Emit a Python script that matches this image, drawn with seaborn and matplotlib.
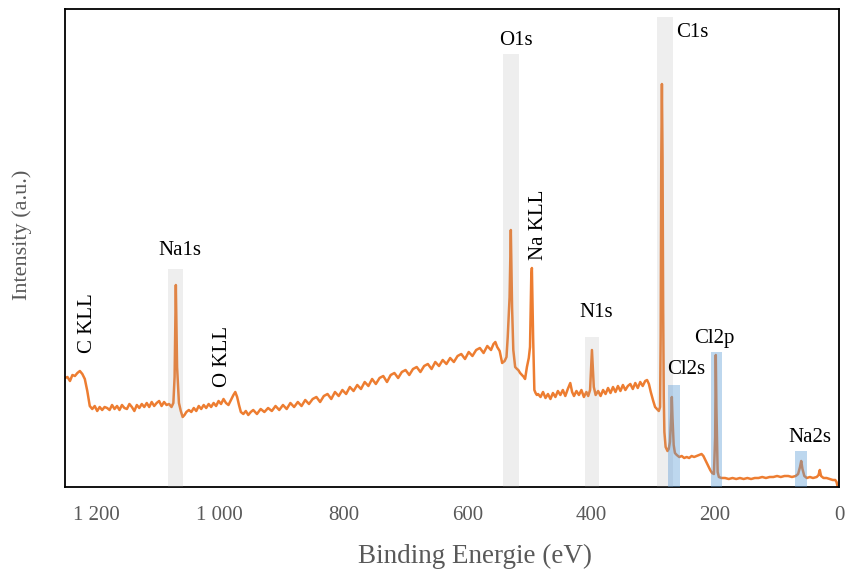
import matplotlib
matplotlib.use("Agg")
import matplotlib.pyplot as plt
import seaborn as sns
import pandas as pd

# ---- spectrum data (binding energy eV, intensity a.u.) ----
energy = [1250, 1246, 1242, 1238, 1234, 1230, 1226, 1222, 1218, 1214, 1210, 1206, 1202, 1198, 1194, 1190, 1186,
          1182, 1178, 1174, 1170, 1166, 1162, 1158, 1154, 1150, 1146, 1142, 1138, 1134, 1130, 1126, 1122, 1118,
          1114, 1110, 1106, 1102, 1098, 1094, 1090, 1086,
          1082, 1078, 1075, 1073, 1071, 1069, 1066, 1063, 1060, 1057, 1054,
          1050, 1046, 1042, 1038, 1034, 1030, 1026, 1022, 1018, 1014, 1010, 1006, 1002, 998, 994, 990, 986, 982,
          978, 975, 972, 969, 966, 962, 958, 954, 950,
          946, 940, 934, 928, 922, 916, 910, 904, 898, 892, 886, 880, 874, 868, 862, 856, 850, 844, 838, 832,
          826, 820, 814, 808, 802, 796, 790, 784, 778, 772, 766, 760, 754, 748, 742, 736, 730, 724, 718, 712,
          706, 700, 694, 688, 682, 676, 670, 664, 658, 652, 646, 640, 634, 628, 622, 616, 610, 604, 598, 592,
          586, 580, 574, 568, 562, 558, 555,
          552, 548, 544, 540, 537, 535, 532, 530, 528, 526, 523, 520, 518, 515, 512, 509, 507, 504, 501, 499,
          497, 496, 494, 492, 490, 488,
          486, 482, 478, 474, 470, 466, 462, 458, 454, 450, 446, 442, 438, 434, 431, 428, 424, 420, 416, 412,
          408, 405, 402, 399, 396, 393, 389, 385, 381, 377, 373, 369, 365, 361, 357, 353, 349, 345, 341, 337,
          333, 329, 325, 321, 317, 313, 310, 307, 304, 300, 297, 294, 291, 289,
          288, 287, 286, 285, 284, 283, 282, 280, 277, 275, 273, 271, 270, 269, 267, 265, 262, 258, 254, 250,
          246, 242, 238, 234, 230, 226, 222, 219, 216, 212, 208, 205, 202, 200, 199, 198, 196, 194, 190, 187,
          184, 178, 172, 166, 160, 154, 148, 142, 136, 130, 124, 118, 112, 106, 100, 94, 88, 82, 76, 70,
          66, 63, 61, 59, 56, 52, 47, 42, 36, 33, 31, 29, 25, 20, 15, 10, 6, 4, 2]
intensity = [109, 110, 106, 112, 111, 114, 116, 113, 108, 96, 81, 78, 81, 76, 80, 77, 80,
             79, 77, 82, 78, 81, 77, 82, 79, 78, 83, 80, 76, 82, 79, 83, 80, 84,
             80, 85, 81, 84, 86, 81, 85, 82,
             83, 80, 84, 110, 202, 120, 84, 76, 70, 72, 75,
             77, 75, 79, 76, 81, 78, 82, 79, 83, 80, 84, 81, 86, 83, 88, 84, 82, 87,
             92, 95, 90, 82, 75, 73, 76, 72, 75,
             77, 73, 78, 75, 79, 76, 81, 77, 82, 78, 84, 80, 85, 81, 87, 83, 88, 90, 85, 91,
             93, 88, 95, 91, 97, 93, 100, 96, 102, 98, 105, 101, 108, 103, 109, 111, 105, 112, 114, 109,
             115, 117, 112, 118, 120, 115, 121, 123, 118, 125, 121, 127, 123, 129, 125, 131, 133, 128, 135, 131,
             137, 139, 134, 141, 137, 143, 145,
             140, 136, 124, 126, 130, 150, 190, 257, 180, 137, 120, 118, 117, 114, 112, 110, 108, 120, 129, 140,
             210, 219, 150, 97, 94, 92,
             93, 90, 95, 89, 93, 88, 94, 90, 96, 92, 97, 91, 98, 104, 95, 91, 96, 92, 97, 90,
             95, 91, 97, 137, 100, 92, 96, 91, 97, 93, 99, 94, 100, 95, 101, 96, 102, 97, 101, 103,
             98, 104, 99, 105, 101, 106, 107, 103, 95, 86, 80, 78, 76, 80,
             150, 330, 403, 330, 180, 90, 55, 40, 36, 38, 45, 70, 90, 70, 42, 34, 32, 30, 31, 29,
             30, 29, 31, 30, 31, 32, 33, 31, 27, 22, 17, 14, 13, 50, 132, 80, 15, 10, 9, 9,
             9, 8, 9, 8, 9, 8, 9, 8, 9, 9, 10, 9, 10, 10, 11, 10, 11, 11, 10, 11,
             13, 20, 26, 18, 11, 9, 10, 9, 10, 12, 17, 11, 9, 9, 8, 7, 7, 5, 0]

# ---- highlighted peak regions ----
band_labels = ["Na1s", "O1s", "C1s", "N1s", "Cl2s", "Cl2p", "Na2s"]
band_center = [1071, 530, 281, 399, 266, 198, 61]
band_width = [24, 26, 26, 23, 19, 18, 19]
band_height = [218, 433, 470, 150, 102, 135, 36]
band_kind = ["grey", "grey", "grey", "grey", "blue", "blue", "blue"]

# ---- annotation texts ----
ann_text = ["C KLL", "Na1s", "O KLL", "O1s", "C1s", "Na KLL", "N1s", "Cl2s", "Cl2p", "Na2s"]
ann_x = [1214, 1064, 996, 522, 237, 486, 392, 247, 202, 47]
ann_y = [164, 237, 131, 447, 455, 262, 175, 117, 149, 50]
ann_rot = [90, 0, 90, 0, 0, 90, 0, 0, 0, 0]

xticks = [1200, 1000, 800, 600, 400, 200, 0]
xtick_labels = ["1 200", "1 000", "800", "600", "400", "200", "0"]

sns.set_style("white")
plt.rcParams["font.family"] = ["Liberation Serif", "DejaVu Serif"]

fig = plt.figure(figsize=(8.49, 5.80), dpi=100)
ax = fig.add_axes([65 / 849, 93 / 580, (839 - 65) / 849, (487 - 9) / 580])

df = pd.DataFrame({"Energy": energy, "Intensity": intensity})
sns.lineplot(data=df, x="Energy", y="Intensity", ax=ax, color="#ED7D31",
             linewidth=1.8, estimator=None, zorder=2)

colors = {"grey": ("#A5A5A5", 0.18), "blue": ("#5B9BD5", 0.40)}
for c, w, h, k in zip(band_center, band_width, band_height, band_kind):
    col, a = colors[k]
    ax.bar(c, h, width=w, color=col, alpha=a, linewidth=0, zorder=3)

for t, x, y, r in zip(ann_text, ann_x, ann_y, ann_rot):
    ax.text(x, y, t, rotation=r, ha="center", va="center", fontsize=15, color="black", zorder=4)

ax.set_xlim(1250, 0)
ax.set_ylim(0, 478)
ax.set_xticks(xticks)
ax.set_xticklabels(xtick_labels)
ax.set_yticks([])
ax.tick_params(axis="x", length=0, pad=14, labelsize=15, labelcolor="#595959")
ax.set_xlabel("Binding Energie (eV)", fontsize=19.5, color="#595959")
ax.set_ylabel("Intensity (a.u.)", fontsize=16, color="#595959")
ax.xaxis.set_label_coords(0.53, -0.118)
ax.yaxis.set_label_coords(-0.042, 0.527)
for s in ax.spines.values():
    s.set_visible(True)
    s.set_color("black")
    s.set_linewidth(1.3)

fig.savefig("out.png", dpi=100)
